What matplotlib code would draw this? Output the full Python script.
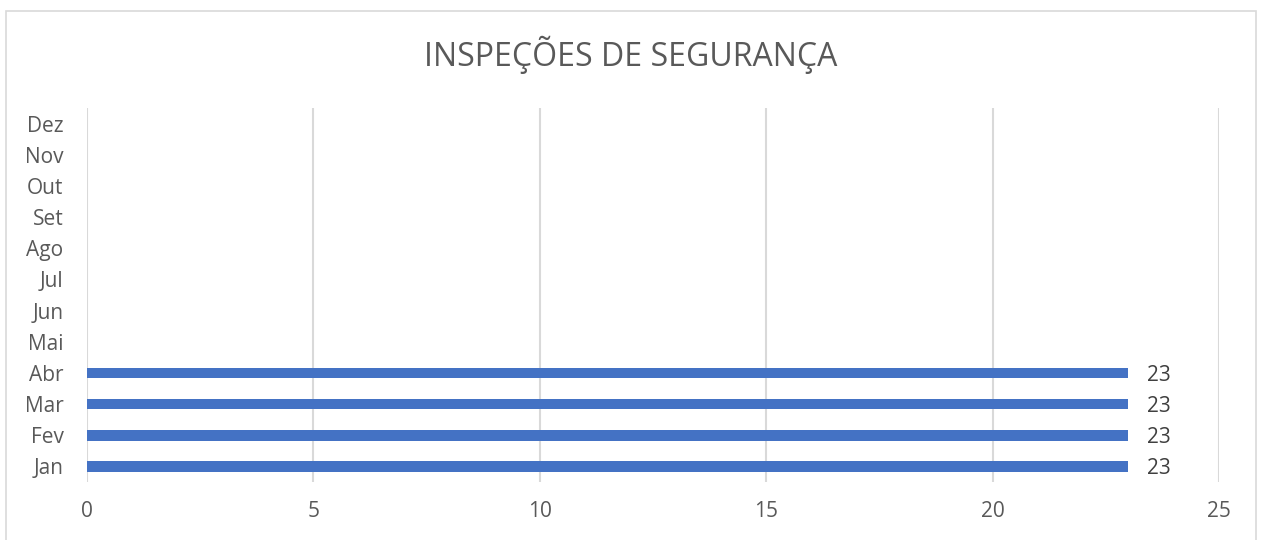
import matplotlib.pyplot as plt
from matplotlib.patches import Rectangle

# Dados do gráfico
meses = ['Jan', 'Fev', 'Mar', 'Abr', 'Mai', 'Jun', 'Jul', 'Ago', 'Set', 'Out', 'Nov', 'Dez']
inspecoes = [23, 23, 23, 23, None, None, None, None, None, None, None, None]
ticks_x = [0, 5, 10, 15, 20, 25]

cinza = '#595959'
plt.rcParams['font.family'] = ['Open Sans', 'DejaVu Sans']

fig = plt.figure(figsize=(12.62, 5.4), dpi=100)
ax = fig.add_axes([87 / 1262, 58 / 540, 1132 / 1262, 374 / 540])

# moldura do gráfico (estilo Excel)
fig.patches.append(Rectangle((6 / 1262, -0.01), 1250 / 1262, 0.99, transform=fig.transFigure,
                             fill=False, edgecolor='#d9d9d9', linewidth=1.2))

pos = list(range(len(meses)))
valores = [v if v is not None else 0 for v in inspecoes]
barras = ax.barh(pos, valores, height=0.34, color='#4472C4', zorder=3)

for p, v in zip(pos, inspecoes):
    if v is not None:
        ax.text(v + 0.4, p, str(v), va='center_baseline', ha='left', fontsize=15, color='#404040')

ax.set_xlim(0, 25)
ax.set_ylim(-0.5, len(meses) - 0.5)
ax.set_yticks(pos)
ax.set_yticklabels(meses, va='center_baseline')
ax.set_xticks(ticks_x)
ax.tick_params(axis='both', length=0, labelsize=15, labelcolor=cinza)
ax.tick_params(axis='y', pad=17)
ax.tick_params(axis='x', pad=14)
ax.grid(axis='x', color='#d9d9d9', linewidth=1.5, zorder=0)
for s in ax.spines.values():
    s.set_visible(False)

fig.text(0.5, 0.898, 'INSPEÇÕES DE SEGURANÇA', ha='center', va='center', fontsize=23, color=cinza)

fig.savefig('out.png', dpi=100)
